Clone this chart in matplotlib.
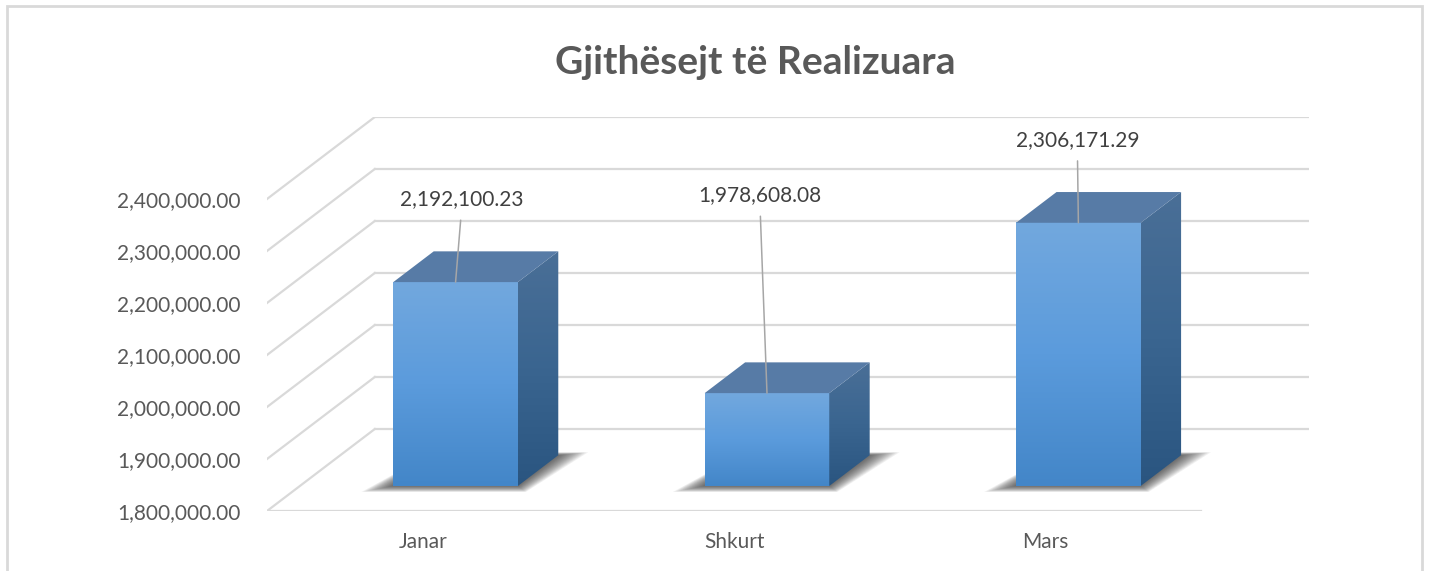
import numpy as np
import matplotlib.pyplot as plt
from matplotlib.patches import Polygon, Rectangle
from matplotlib.colors import LinearSegmentedColormap

plt.rcParams['font.family'] = ['Lato', 'DejaVu Sans']

categories = ['Janar', 'Shkurt', 'Mars']
values = [2192100.23, 1978608.08, 2306171.29]
y_ticks = [1800000, 1900000, 2000000, 2100000, 2200000, 2300000, 2400000]

# label offsets in pixels (text centre relative to bar top)
label_offsets = [(6, 83), (-7, 198), (-1, 83)]

W, H = 1431, 571
base = y_ticks[0]
# fake 3d: depth of the floor in category / value units
DX = 108 / 312
DV = 82 / 52 * 100000
bar_w = 0.4
d0, d1 = 0.305, 0.68
px_x = 1 / 312
px_v = 100000 / 52

fig = plt.figure(figsize=(W / 100, H / 100), dpi=100)
ax = fig.add_axes([267 / W, 60 / H, (1309 - 267) / W, (511 - 117) / H])
ax.set_xlim(-0.5, 2.5 + DX)
ax.set_ylim(base, y_ticks[-1] + DV)

grid_c = '#d9d9d9'
# back wall + left wall grid
for v in y_ticks:
    ax.plot([-0.5 + DX, 2.5 + DX], [v + DV, v + DV], color=grid_c, lw=1.6, zorder=1)
    ax.plot([-0.5, -0.5 + DX], [v, v + DV], color=grid_c, lw=1.6, zorder=1)
ax.plot([-0.5, 2.5], [base, base], color=grid_c, lw=1.6, zorder=1)

front_cm = LinearSegmentedColormap.from_list('front', ['#4386c8', '#5b9bdc', '#72a8de'])
side_cm = LinearSegmentedColormap.from_list('side', ['#2a5580', '#3a6590', '#4a6f97'])
grad = np.linspace(0, 1, 256).reshape(-1, 1)

ddx = (d1 - d0) * DX
ddv = (d1 - d0) * DV
vb = base + d0 * DV

for i, v in enumerate(values):
    xl = i + d0 * DX - bar_w / 2
    xr = xl + bar_w
    vt = v + d0 * DV

    # soft shadow on the floor
    n = 16
    for k in range(n):
        e = 1 - k / n
        shadow = [(xl - 32 * e * px_x, vb - 6 * e * px_v),
                  (xr + 8 * e * px_x, vb - 6 * e * px_v),
                  (xr + ddx + 30 * e * px_x, vb + ddv + 3 * e * px_v),
                  (xl + ddx, vb + ddv + 3 * e * px_v)]
        ax.add_patch(Polygon(shadow, closed=True, color='#222222', alpha=0.06, lw=0, zorder=2))

    # front face
    ax.imshow(grad, cmap=front_cm, extent=[xl, xr, vb, vt], origin='lower',
              aspect='auto', zorder=3, interpolation='bilinear')

    # side face
    side = Polygon([(xr, vb), (xr + ddx, vb + ddv), (xr + ddx, vt + ddv), (xr, vt)],
                   closed=True, facecolor='none', lw=0)
    ax.add_patch(side)
    im = ax.imshow(grad, cmap=side_cm, extent=[xr, xr + ddx, vb, vt + ddv], origin='lower',
                   aspect='auto', zorder=3, interpolation='bilinear')
    im.set_clip_path(side)

    # top face
    ax.add_patch(Polygon([(xl, vt), (xr, vt), (xr + ddx, vt + ddv), (xl + ddx, vt + ddv)],
                         closed=True, facecolor='#577ba6', lw=0, zorder=3))

    # value label with leader line
    ox, oy = label_offsets[i]
    ax.annotate(f"{v:,.2f}", xy=(i + d0 * DX, vt), xytext=(ox, oy), textcoords='offset pixels',
                ha='center', va='center', fontsize=15, color='#404040',
                arrowprops=dict(arrowstyle='-', color='#a6a6a6', lw=1.1,
                                relpos=(0.5, 0), shrinkA=6, shrinkB=0), zorder=4)

ax.set_xlim(-0.5, 2.5 + DX)
ax.set_ylim(base, y_ticks[-1] + DV)

ax.set_yticks(y_ticks, [f"{t:,.2f}" for t in y_ticks])
ax.set_xticks(range(len(categories)), categories)
ax.tick_params(axis='y', length=0, pad=19, labelsize=15, labelcolor='#595959')
ax.tick_params(axis='x', length=0, pad=15, labelsize=15, labelcolor='#595959')
for s in ax.spines.values():
    s.set_visible(False)
ax.patch.set_alpha(0)

fig.text(755 / W, 1 - 62 / H, 'Gjithësejt të Realizuara', ha='center', va='center',
         fontsize=28, fontweight='bold', color='#595959')

fig.add_artist(Rectangle((7 / W, -0.05), (1422 - 7) / W, 1 - 6 / H + 0.05,
                         transform=fig.transFigure, fill=False, edgecolor='#d9d9d9', lw=2))

plt.savefig('out.png', dpi=100)
